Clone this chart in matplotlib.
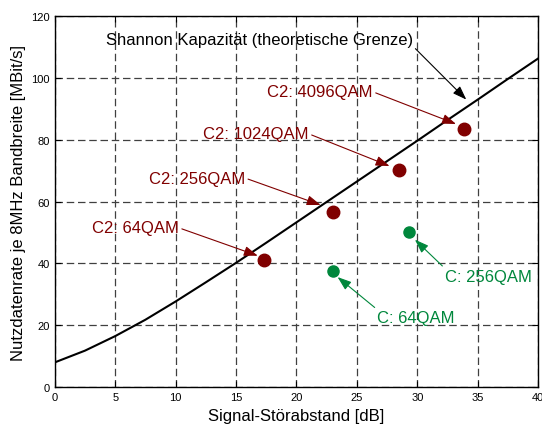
import matplotlib
matplotlib.use("Agg")
import matplotlib.pyplot as plt

# Shannon capacity curve, every 2.5 dB
snr_db = [0, 2.5, 5, 7.5, 10, 12.5, 15, 17.5, 20, 22.5, 25, 27.5, 30, 32.5, 35, 37.5, 40]
capacity = [8.0, 11.8, 16.5, 21.8, 27.7, 33.9, 40.2, 46.7, 53.3, 59.9, 66.5,
            73.1, 79.7, 86.4, 93.0, 99.7, 106.3]

# DVB-C2 points
c2_labels = ["C2: 64QAM", "C2: 256QAM", "C2: 1024QAM", "C2: 4096QAM"]
c2_snr = [17.3, 23.0, 28.5, 33.9]
c2_rate = [41.0, 56.6, 70.3, 83.4]

# DVB-C points
c_labels = ["C: 64QAM", "C: 256QAM"]
c_snr = [23.0, 29.35]
c_rate = [37.5, 50.3]

RED = "#800000"
GREEN = "#00873c"

plt.rcParams["font.family"] = ["Liberation Sans", "DejaVu Sans"]

fig = plt.figure(figsize=(5.42, 4.27), dpi=100)
ax = fig.add_axes([0.101, 0.091, 0.892, 0.869])

ax.plot(snr_db, capacity, color="black", lw=1.5, zorder=3)
ax.plot(c2_snr, c2_rate, "o", color=RED, ms=9, zorder=4)
ax.plot(c_snr, c_rate, "o", color=GREEN, ms=8, zorder=4)

ap = dict(arrowstyle="-|>,head_length=0.7,head_width=0.25", lw=0.8, shrinkA=0, shrinkB=0)

ax.annotate("Shannon Kapazität (theoretische Grenze)", xy=(34.05, 93.0),
            xytext=(4.2, 112.3), fontsize=12, va="center", ha="left",
            arrowprops=dict(ap, color="black", relpos=(1.0, 0.1)))

# label text positions (left x, center y) and arrow heads
c2_text = [(3.1, 51.5), (7.8, 67.6), (12.3, 81.9), (17.6, 95.5)]
c2_head = [(16.8, 42.5), (22.0, 58.9), (27.7, 71.5), (33.2, 85.1)]
for lab, (tx, ty), hd in zip(c2_labels, c2_text, c2_head):
    ax.annotate(lab, xy=hd, xytext=(tx, ty), fontsize=12, color=RED,
                va="center", ha="left",
                arrowprops=dict(ap, color=RED, relpos=(1.0, 0.5)))

c_text = [(26.7, 22.6), (32.3, 35.9)]
c_head = [(23.4, 35.6), (29.8, 47.7)]
for lab, (tx, ty), hd in zip(c_labels, c_text, c_head):
    ax.annotate(lab, xy=hd, xytext=(tx, ty), fontsize=12, color=GREEN,
                va="center", ha="left",
                arrowprops=dict(ap, color=GREEN, relpos=(0.0, 1.0)))

ax.set_xlim(0, 40)
ax.set_ylim(0, 120)
ax.set_xticks(range(0, 41, 5))
ax.set_yticks(range(0, 121, 20))
ax.tick_params(direction="in", length=4, labelsize=8, top=True, right=True)
ax.grid(True, color="#404040", lw=0.9, dashes=(6, 3))
for s in ax.spines.values():
    s.set_linewidth(1.0)
ax.set_xlabel("Signal-Störabstand [dB]", fontsize=12)
ax.set_ylabel("Nutzdatenrate je 8MHz Bandbreite [MBit/s]", fontsize=12)

fig.savefig("out.png", dpi=100)
